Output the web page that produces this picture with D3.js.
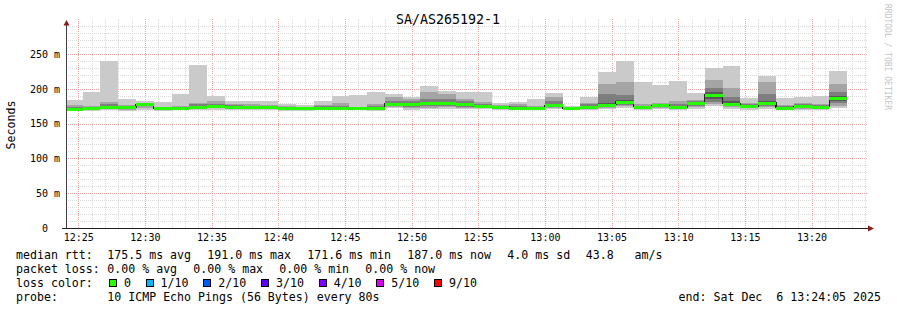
<!DOCTYPE html>
<html>
<head>
<meta charset="utf-8">
<script src="https://cdn.jsdelivr.net/npm/d3@7"></script>
<style>
  body { margin: 0; background: #fff; }
  text { font-family: "DejaVu Sans Mono", monospace; white-space: pre; fill: #000; }
</style>
</head>
<body>
<svg id="chart" width="897" height="310"></svg>
<script>
// data
const title = "SA/AS265192-1";
const startTime = new Date(2025, 11, 6, 12, 24, 5);
const endTime = new Date(2025, 11, 6, 13, 24, 5);
const firstStep = new Date(2025, 11, 6, 12, 24, 0);
const stepSeconds = 80;

// 10 sorted ping rtts (ms) per 80s step
const pings = [
  [169.5, 170.5, 171, 171.3, 171.5, 171.7, 172.5, 174, 177, 184.5],
  [167.5, 170, 171, 171.5, 171.8, 172.2, 173, 174, 176, 195],
  [169, 171, 172, 173, 173.8, 174.2, 176, 178, 181, 240],
  [168, 170, 171.5, 172.5, 173.3, 173.7, 174.5, 175.5, 177, 186],
  [170, 173, 175, 176.5, 177.2, 177.8, 178.5, 179, 180, 183],
  [168.5, 170.5, 171.5, 172, 172.3, 172.7, 173.2, 173.8, 174.5, 180.5],
  [169, 171, 171.5, 172, 172.3, 172.7, 173.5, 174.5, 176, 192],
  [170, 171.5, 172.5, 173.5, 174.2, 174.8, 176, 178, 180, 234],
  [170, 172, 173, 174, 174.8, 175.2, 176.5, 178.5, 182, 190],
  [169, 171.5, 172.5, 173.5, 174.3, 174.7, 175.5, 176.5, 178, 183],
  [169.5, 171.5, 172.5, 173.3, 173.8, 174.2, 175, 176, 177.5, 182.5],
  [169, 171, 172, 172.8, 173.3, 173.7, 174.5, 175.5, 177, 182],
  [168, 170, 171, 171.8, 172.3, 172.7, 173.3, 174, 175.5, 178],
  [168.5, 170, 171, 171.5, 171.8, 172.2, 172.8, 173.5, 174.5, 176.5],
  [169.5, 171, 171.5, 172, 172.3, 172.7, 173.5, 175, 177, 182],
  [169, 170.5, 171.5, 172, 172.3, 172.7, 173.5, 175, 180, 190],
  [169, 170.5, 171.5, 172, 172.3, 172.7, 173, 173.5, 174.5, 191],
  [168, 170.5, 171.5, 172, 172.3, 172.7, 173.5, 175, 177.5, 195],
  [172, 174, 175.5, 177, 178.2, 178.8, 180, 183, 188, 192.5],
  [170, 172, 174, 176, 177.2, 177.8, 179, 182, 186, 188.7],
  [171, 173, 175, 177.5, 178.7, 179.3, 181, 186, 195, 204],
  [171, 173.5, 175.5, 177.5, 178.7, 179.3, 181, 185, 193, 197],
  [170.5, 172.5, 174.5, 176.5, 177.7, 178.3, 179.5, 182, 186, 195.4],
  [170.5, 172, 173.5, 175, 175.7, 176.3, 177, 178.5, 181, 195],
  [170, 171.5, 172.5, 173.3, 173.7, 174.3, 175, 176, 177, 180],
  [169.5, 171, 171.8, 172.5, 172.8, 173.2, 174, 175.5, 178, 181.5],
  [169, 170.5, 171, 171.5, 171.8, 172.2, 173, 174, 176, 185],
  [171, 172.5, 174, 175.5, 176.2, 176.8, 178.5, 182, 188, 194.4],
  [169.5, 170.5, 171, 171.5, 171.8, 172.2, 172.8, 173.5, 174, 175],
  [169.5, 171, 172, 173, 173.7, 174.3, 175.5, 177.5, 180, 188.3],
  [171, 173, 174.5, 176, 176.7, 177.3, 180, 193, 207, 224],
  [172, 175, 177, 179, 180.6, 181.4, 184, 191, 210, 240],
  [169.5, 171, 172, 173.2, 173.8, 174.2, 175, 176, 178, 210],
  [171, 172.5, 174, 175.5, 176.2, 176.8, 177.5, 178.5, 180, 205],
  [169, 170.5, 171.5, 172.5, 173.2, 173.8, 175, 178, 182, 211],
  [171, 173.5, 175.5, 177.5, 178.7, 179.3, 180.5, 182, 184.5, 193.5],
  [175, 178, 181, 185, 190.3, 191.7, 195, 201, 212, 230],
  [171, 173.5, 175.5, 177, 178.2, 178.8, 182, 188, 201, 233],
  [170, 172, 173, 174.2, 174.8, 175.2, 176, 177.5, 180, 187],
  [171.5, 174, 176, 178, 179.5, 180.5, 183, 192, 210, 219],
  [169, 170.5, 171.5, 172.3, 172.8, 173.2, 174, 175.5, 177, 187],
  [170, 171.5, 172.5, 173.8, 174.7, 175.3, 176.5, 178, 180, 188],
  [169.5, 171, 172, 173.2, 173.8, 174.2, 175, 176.5, 178, 189],
  [173, 176, 179, 183, 186.3, 187.7, 190, 196, 207, 226]
];

const yTicks = [0, 50, 100, 150, 200, 250];
const yTickLabels = ["  0", " 50 m", "100 m", "150 m", "200 m", "250 m"];
const xTicks = ["12:25", "12:30", "12:35", "12:40", "12:45", "12:50", "12:55",
                "13:00", "13:05", "13:10", "13:15", "13:20"];

const rttStats = ["175.5 ms avg", "191.0 ms max", "171.6 ms min", "187.0 ms now", "4.0 ms sd"];
const rttRate = "43.8   am/s";
const lossStats = ["0.00 % avg", "0.00 % max", "0.00 % min", "0.00 % now"];
const lossLabels = ["0", "1/10", "2/10", "3/10", "4/10", "5/10", "9/10"];
const lossColors = ["#26ff00", "#00b8ff", "#0059ff", "#5e00ff", "#7e00ff", "#dd00ff", "#ff0000"];
const probeText = "10 ICMP Echo Pings (56 Bytes) every 80s";
const endText = "end: Sat Dec  6 13:24:05 2025";

const smokeColors = ["#cacaca", "#a4a4a4", "#7e7e7e", "#585858", "#323232"];

const svg = d3.select("#chart");
const plotLeft = 66, plotRight = 866, plotBottom = 228, plotTop = 19.2;

const x = d3.scaleTime().domain([startTime, endTime]).range([plotLeft, plotRight]);
const y = d3.scaleLinear().domain([0, 300]).range([plotBottom, plotTop]);

svg.append("rect").attr("width", 897).attr("height", 310).attr("fill", "#fff");

// grid
const grid = svg.append("g").attr("shape-rendering", "crispEdges");
const minutes = d3.timeMinute.range(startTime, endTime);
minutes.forEach(t => {
  const major = t.getMinutes() % 5 === 0;
  const px = Math.round(x(t)) + 0.5;
  grid.append("line")
    .attr("x1", px).attr("x2", px).attr("y1", plotTop).attr("y2", plotBottom)
    .attr("stroke", major ? "#f2a0a0" : "#dadada")
    .attr("stroke-dasharray", "1,1");
});
d3.range(10, 300, 10).forEach(v => {
  const major = v % 50 === 0;
  const py = Math.round(y(v)) + 0.5;
  grid.append("line")
    .attr("x1", plotLeft).attr("x2", plotRight + 2).attr("y1", py).attr("y2", py)
    .attr("stroke", major ? "#f2a0a0" : "#dadada")
    .attr("stroke-dasharray", "1,1");
});

// smoke
svg.append("clipPath").attr("id", "plot")
  .append("rect").attr("x", plotLeft).attr("y", plotTop)
  .attr("width", plotRight - plotLeft).attr("height", plotBottom - plotTop);
const plot = svg.append("g").attr("clip-path", "url(#plot)").attr("shape-rendering", "crispEdges");

const stepStart = i => new Date(firstStep.getTime() + i * stepSeconds * 1000);
const stepEnd = i => new Date(firstStep.getTime() + (i + 1) * stepSeconds * 1000);

for (let k = 0; k < 5; k++) {
  plot.append("g").selectAll("rect")
    .data(pings)
    .enter().append("rect")
    .attr("x", (d, i) => Math.round(x(stepStart(i))))
    .attr("width", (d, i) => Math.round(x(stepEnd(i))) - Math.round(x(stepStart(i))))
    .attr("y", d => Math.round(y(d[9 - k])))
    .attr("height", d => Math.max(1, Math.round(y(d[k])) - Math.round(y(d[9 - k]))))
    .attr("fill", smokeColors[k]);
}

// median
const medians = pings.map(d => (d[4] + d[5]) / 2);
const medPts = medians.map((m, i) => [stepStart(i), m]);
medPts.push([stepEnd(medians.length - 1), medians[medians.length - 1]]);
plot.append("path")
  .datum(medPts)
  .attr("fill", "none")
  .attr("stroke", "#202020")
  .attr("stroke-width", 1.2)
  .attr("d", d3.line().x(d => x(d[0])).y(d => y(d[1])).curve(d3.curveStepAfter));

plot.append("g").selectAll("rect")
  .data(medians)
  .enter().append("rect")
  .attr("x", (d, i) => Math.round(x(stepStart(i))))
  .attr("width", (d, i) => Math.round(x(stepEnd(i))) - Math.round(x(stepStart(i))))
  .attr("y", d => Math.round(y(d)) - 1.5)
  .attr("height", 3)
  .attr("fill", lossColors[0]);

// axes
const yAxis = svg.append("g")
  .attr("transform", `translate(${plotLeft},0)`)
  .call(d3.axisLeft(y).tickValues(yTicks).tickFormat((d, i) => yTickLabels[i]).tickSize(0));
yAxis.select(".domain").remove();
yAxis.selectAll("text")
  .attr("x", 30 - plotLeft)
  .attr("text-anchor", "start")
  .style("font-size", "10px")
  .style("font-family", "DejaVu Sans Mono, monospace");

const xTickDates = xTicks.map(s => {
  const [h, m] = s.split(":").map(Number);
  return new Date(2025, 11, 6, h, m, 0);
});
const xAxis = svg.append("g")
  .attr("transform", `translate(0,${plotBottom})`)
  .call(d3.axisBottom(x).tickValues(xTickDates).tickFormat(d3.timeFormat("%H:%M")).tickSize(0).tickPadding(6));
xAxis.select(".domain").remove();
xAxis.selectAll("text")
  .style("font-size", "10px")
  .style("font-family", "DejaVu Sans Mono, monospace");

svg.append("line").attr("x1", plotLeft + 0.5).attr("x2", plotLeft + 0.5).attr("y1", 24).attr("y2", plotBottom + 1)
  .attr("stroke", "#404040").attr("shape-rendering", "crispEdges");
svg.append("line").attr("x1", plotLeft - 4).attr("x2", plotRight + 3).attr("y1", plotBottom + 0.5).attr("y2", plotBottom + 0.5)
  .attr("stroke", "#202020").attr("shape-rendering", "crispEdges");
svg.append("path").attr("d", `M${plotLeft - 2.5},25.5 L${plotLeft + 3.5},25.5 L${plotLeft + 0.5},20 Z`).attr("fill", "#8b1a1a");
svg.append("path").attr("d", `M${plotRight + 2},${plotBottom - 2.5} L${plotRight + 2},${plotBottom + 3.5} L${plotRight + 8},${plotBottom + 0.5} Z`).attr("fill", "#8b1a1a");

// title and labels
svg.append("text").attr("x", 448).attr("y", 24).attr("text-anchor", "middle")
  .style("font-size", "13.3px").text(title);
svg.append("text").attr("transform", "translate(15,125) rotate(-90)").attr("text-anchor", "middle")
  .style("font-size", "11.6px").text("Seconds");
svg.append("text").attr("transform", "translate(885,4) rotate(90)")
  .style("font-size", "8px").style("fill", "#c4c4c4").text("RRDTOOL / TOBI OETIKER");

// legend
const fs = "11.6px";
const charW = 7.02;
const legend = svg.append("g").style("font-size", fs);
legend.append("text").attr("x", 16).attr("y", 259).text("median rtt:");
rttStats.forEach((s, i) => legend.append("text").attr("x", 107.3 + i * 100).attr("y", 259).text(s));
legend.append("text").attr("x", 585.7).attr("y", 259).text(rttRate);

legend.append("text").attr("x", 16).attr("y", 272.5).text("packet loss:");
lossStats.forEach((s, i) => legend.append("text").attr("x", 107.3 + i * 86).attr("y", 272.5).text(s));

legend.append("text").attr("x", 16).attr("y", 286.7).text("loss color:");
let cursor = 109;
lossLabels.forEach((lab, i) => {
  legend.append("rect").attr("x", cursor + 0.5).attr("y", 279.5).attr("width", 7).attr("height", 7)
    .attr("fill", lossColors[i]).attr("stroke", "#000").attr("shape-rendering", "crispEdges");
  legend.append("text").attr("x", cursor + 15).attr("y", 286.7).text(lab);
  cursor = cursor + 15 + lab.length * charW + 14.6;
});

legend.append("text").attr("x", 16).attr("y", 300.5).text("probe:");
legend.append("text").attr("x", 107.3).attr("y", 300.5).text(probeText);
legend.append("text").attr("x", 881).attr("y", 300.5).attr("text-anchor", "end").text(endText);
</script>
</body>
</html>
